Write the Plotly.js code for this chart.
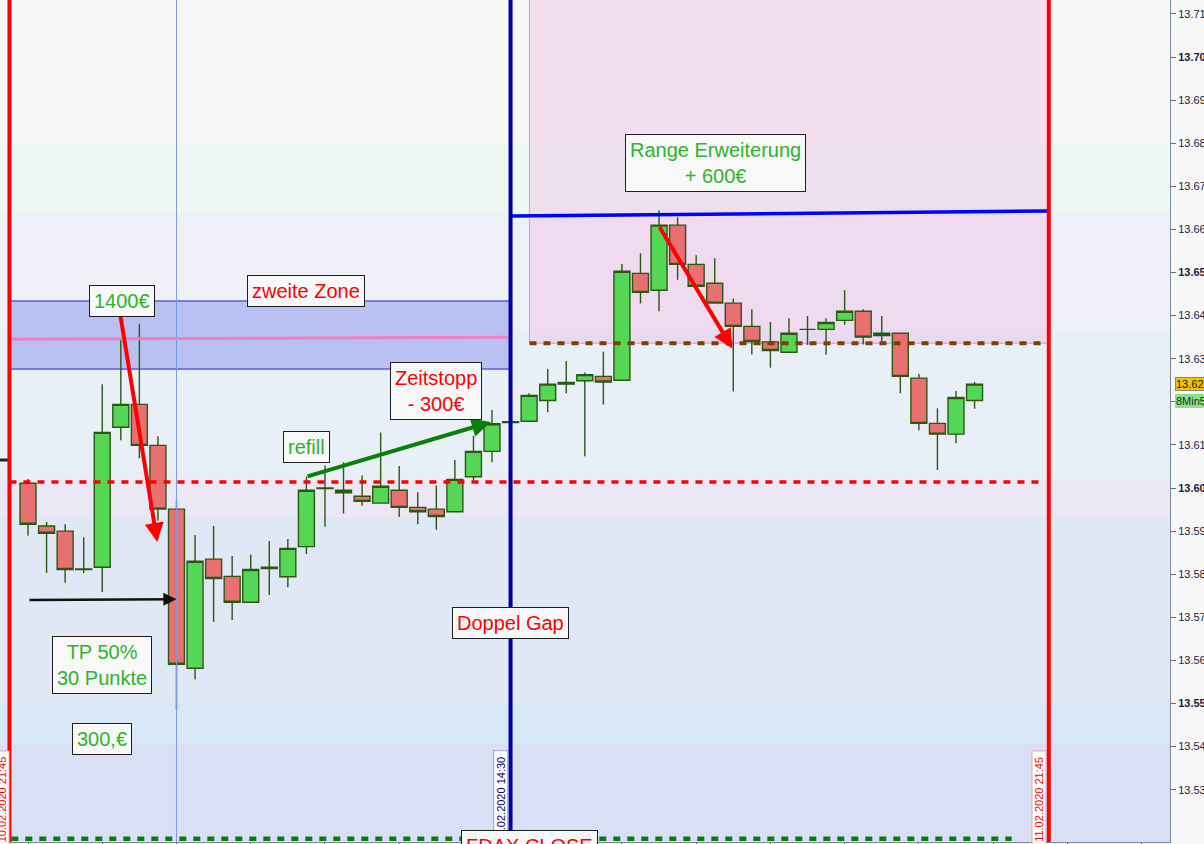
<!DOCTYPE html>
<html>
<head>
<meta charset="utf-8">
<script src="https://cdn.plot.ly/plotly-3.0.1.min.js"></script>
<style>
  html, body { margin: 0; padding: 0; background: #f7f7f7; overflow: hidden; }
  #chart { width: 1204px; height: 844px; }
</style>
</head>
<body>
<div id="chart"></div>
<script>
// 8-minute candles, 10.02.2020 21:45 -> 11.02.2020 21:45
const opens = [
  13.6011, 13.5912, 13.5900, 13.5812, 13.5816, 13.6141, 13.6194, 13.6099, 13.5951, 13.5582,
  13.5835, 13.5795, 13.5735, 13.5816, 13.5794, 13.5864, 13.6000, 13.5995, 13.5981, 13.5965,
  13.5995, 13.5955, 13.5951, 13.5945, 13.6026, 13.6085, 13.6152, 13.6155, 13.6203, 13.6241,
  13.6249, 13.6259, 13.6250, 13.6498, 13.6459, 13.6610, 13.6519, 13.6475, 13.6429, 13.6375,
  13.6339, 13.6315, 13.6368, 13.6368, 13.6389, 13.6410, 13.6354, 13.6359, 13.6255, 13.6150,
  13.6125, 13.6203
];
const highs = [
  13.6021, 13.5921, 13.5916, 13.5886, 13.6241, 13.6348, 13.6381, 13.6120, 13.5970, 13.5891,
  13.5912, 13.5842, 13.5846, 13.5877, 13.5882, 13.6026, 13.6052, 13.6060, 13.6029, 13.6129,
  13.6051, 13.5990, 13.6006, 13.6065, 13.6121, 13.6181, 13.6154, 13.6220, 13.6276, 13.6295,
  13.6268, 13.6316, 13.6520, 13.6545, 13.6644, 13.6628, 13.6540, 13.6533, 13.6440, 13.6415,
  13.6385, 13.6394, 13.6399, 13.6394, 13.6459, 13.6415, 13.6399, 13.6359, 13.6265, 13.6185,
  13.6225, 13.6246
];
const lows = [
  13.5889, 13.5803, 13.5780, 13.5803, 13.5759, 13.6111, 13.6069, 13.5924, 13.5485, 13.5556,
  13.5690, 13.5694, 13.5735, 13.5752, 13.5770, 13.5847, 13.5910, 13.5941, 13.5959, 13.5965,
  13.5933, 13.5916, 13.5903, 13.5945, 13.6017, 13.6060, 13.6152, 13.6155, 13.6176, 13.6220,
  13.6074, 13.6194, 13.6250, 13.6428, 13.6410, 13.6483, 13.6468, 13.6429, 13.6224, 13.6310,
  13.6279, 13.6315, 13.6332, 13.6310, 13.6379, 13.6333, 13.6340, 13.6220, 13.6134, 13.6042,
  13.6104, 13.6184
];
const closes = [
  13.5916, 13.5895, 13.5811, 13.5811, 13.6129, 13.6194, 13.6099, 13.5951, 13.5591, 13.5830,
  13.5790, 13.5735, 13.5811, 13.5813, 13.5860, 13.5995, 13.5999, 13.5989, 13.5969, 13.6004,
  13.5955, 13.5945, 13.5934, 13.6020, 13.6085, 13.6149, 13.6154, 13.6215, 13.6241, 13.6245,
  13.6263, 13.6246, 13.6503, 13.6454, 13.6610, 13.6519, 13.6468, 13.6429, 13.6375, 13.6340,
  13.6319, 13.6359, 13.6368, 13.6384, 13.6410, 13.6350, 13.6359, 13.6259, 13.6150, 13.6125,
  13.6210, 13.6241
];

// Price axis
const yTicks = [13.53, 13.54, 13.55, 13.56, 13.57, 13.58, 13.59, 13.60, 13.61,
                13.62, 13.63, 13.64, 13.65, 13.66, 13.67, 13.68, 13.69, 13.70, 13.71];
const boldTicks = [13.55, 13.60, 13.65, 13.70];
const coveredTicks = [13.62];   // hidden behind the price / timer tags

// Background price bands (upper/lower edges)
const bandEdges = [13.7140, 13.6800, 13.6638, 13.6367, 13.6021, 13.5933, 13.5501, 13.5408, 13.5170];

// Levels
const zoneLow = 13.6276, zoneHigh = 13.6434;          // "zweite Zone"
const zoneMid = [13.6345, 13.6350];                     // pink line across the zone
const redDashLevel = 13.6014;
const closeLevel = 13.5186;                             // FDAX close
const rangeLow = 13.6336;                               // lower edge of the extension range
const rangeLine = [13.6631, 13.6643];                   // blue upper line
const leftStub = 13.6065;

// Session markers (candle index)
const sessionStart = -1, gapBar = 26, sessionEnd = 55, tpBar = 8;

const FONT = 'Liberation Sans, Arial, sans-serif';
const GREEN_TXT = '#2db52d';
const RED_TXT = '#ff0000';

const idx = closes.map((_, i) => i);
const lastClose = closes[closes.length - 1];

const trace = {
  type: 'candlestick',
  x: idx, open: opens, high: highs, low: lows, close: closes,
  increasing: { fillcolor: '#55d655', line: { color: '#2a5814', width: 1.4 } },
  decreasing: { fillcolor: '#e87070', line: { color: '#2a5814', width: 1.4 } },
  whiskerwidth: 0,
  hoverinfo: 'skip'
};

const bandColors = ['#f7f7f7', '#eff7f5', '#f0f0f8', '#e8eff7', '#ebe8f5', '#e1e8f5', '#d9e8f7', '#d9e0f6'];

const shapes = [];
for (let i = 0; i < bandColors.length; i++) {
  shapes.push({ type: 'rect', layer: 'below', xref: 'paper', yref: 'y', x0: 0, x1: 1,
    y0: bandEdges[i + 1], y1: bandEdges[i], fillcolor: bandColors[i], line: { width: 0 } });
}
// zone box
shapes.push({ type: 'rect', layer: 'below', xref: 'x', yref: 'y', x0: sessionStart, x1: gapBar,
  y0: zoneLow, y1: zoneHigh, fillcolor: '#b8c1f2', line: { color: '#1e1ee0', width: 1 } });
// extension range box
shapes.push({ type: 'rect', layer: 'below', xref: 'x', yref: 'y', x0: 27.02, x1: sessionEnd,
  y0: rangeLow, y1: 13.72, fillcolor: 'rgba(236,130,205,0.2)', line: { color: '#f08ac8', width: 1 } });

// thin marker at the TP bar
shapes.push({ type: 'line', xref: 'x', yref: 'paper', x0: tpBar, x1: tpBar, y0: 0, y1: 1,
  line: { color: '#7b9be0', width: 1 } });
// pink mid line of the zone
shapes.push({ type: 'line', xref: 'x', yref: 'y', x0: sessionStart, x1: gapBar, y0: zoneMid[0], y1: zoneMid[1],
  line: { color: '#f080c0', width: 3 } });
// red dashed level
shapes.push({ type: 'line', xref: 'x', yref: 'y', x0: sessionStart, x1: 54.5, y0: redDashLevel, y1: redDashLevel,
  line: { color: '#ff0000', width: 3.5, dash: '7px,7px' } });
// close level (green dotted)
shapes.push({ type: 'line', xref: 'x', yref: 'y', x0: -0.9, x1: 53.0, y0: closeLevel, y1: closeLevel,
  line: { color: '#0a7a0a', width: 4.5, dash: '7px,7px' } });
// brown dotted lower edge of range
shapes.push({ type: 'line', xref: 'x', yref: 'y', x0: 27.02, x1: sessionEnd, y0: rangeLow, y1: rangeLow,
  line: { color: '#7c3e0c', width: 4, dash: '7px,7px' } });
// blue upper range line
shapes.push({ type: 'line', xref: 'x', yref: 'y', x0: gapBar, x1: sessionEnd, y0: rangeLine[0], y1: rangeLine[1],
  line: { color: '#0000ff', width: 3.5 } });
// left stub
shapes.push({ type: 'line', xref: 'paper', yref: 'y', x0: 0, x1: 0.0068, y0: leftStub, y1: leftStub,
  line: { color: '#222222', width: 3 } });
// session verticals
shapes.push({ type: 'line', xref: 'x', yref: 'paper', x0: gapBar, x1: gapBar, y0: 0, y1: 1,
  line: { color: '#0000a0', width: 4 } });
shapes.push({ type: 'line', xref: 'x', yref: 'paper', x0: sessionStart, x1: sessionStart, y0: 0, y1: 1,
  line: { color: '#ff0000', width: 4 } });
shapes.push({ type: 'line', xref: 'x', yref: 'paper', x0: sessionEnd, x1: sessionEnd, y0: 0, y1: 1,
  line: { color: '#ff0000', width: 4 } });

function note(x, y, text, color) {
  return { xref: 'x', yref: 'y', x: x, y: y, text: text, showarrow: false,
    font: { family: FONT, size: 20, color: color }, bgcolor: '#f8f8f8',
    bordercolor: '#1e1e1e', borderwidth: 1, borderpad: 4, xanchor: 'center', yanchor: 'middle' };
}
function arrow(x0, y0, x1, y1, color, width, size) {
  return { xref: 'x', yref: 'y', axref: 'x', ayref: 'y', x: x1, y: y1, ax: x0, ay: y0,
    text: '', showarrow: true, arrowhead: 2, arrowsize: size, arrowwidth: width, arrowcolor: color };
}
function stamp(x, text, color, border) {
  return { xref: 'x', yref: 'paper', x: x, y: 0.0505, text: text, textangle: -90, showarrow: false,
    font: { family: FONT, size: 11, color: color }, bgcolor: '#ffffff', bordercolor: border,
    borderwidth: 1, borderpad: 0, width: 96, height: 13, xanchor: 'center', yanchor: 'middle' };
}

const annotations = [
  arrow(4.957, 13.6406, 6.967, 13.5875, '#ff0000', 4, 0.95),
  arrow(14.978, 13.6026, 24.93, 13.6153, '#0a800a', 4, 0.95),
  arrow(33.98, 13.6609, 37.95, 13.6324, '#ff0000', 4, 0.95),
  arrow(0, 13.5740, 8.0, 13.5742, '#111111', 2.5, 1.05),
  note(5.06, 13.6434, '1400€', GREEN_TXT),
  note(14.98, 13.6457, 'zweite Zone', RED_TXT),
  note(37.04, 13.6753, 'Range Erweiterung<br>+ 600€', GREEN_TXT),
  note(21.96, 13.6225, 'Zeitstopp<br>- 300€', RED_TXT),
  note(14.98, 13.6096, 'refill', GREEN_TXT),
  note(26.02, 13.5687, 'Doppel Gap', RED_TXT),
  note(3.99, 13.5590, 'TP 50%<br>30 Punkte', GREEN_TXT),
  note(3.99, 13.5418, '300,€', GREEN_TXT),
  stamp(-1.40, '10.02.2020 21:45', '#ff0000', '#f0a0a0'),
  stamp(25.47, '11.02.2020 14:30', '#000080', '#a0a0c8'),
  stamp(54.47, '11.02.2020 21:45', '#ff0000', '#f0a0a0'),
  { xref: 'x', yref: 'paper', x: 27.02, y: 0.0143, yanchor: 'top', xanchor: 'center',
    text: 'FDAX CLOSE', showarrow: false, font: { family: FONT, size: 20, color: RED_TXT },
    bgcolor: '#f8f8f8', bordercolor: '#1e1e1e', borderwidth: 1, borderpad: 4 },
  { xref: 'paper', yref: 'y', x: 1.0043, y: lastClose, xanchor: 'left', yanchor: 'middle',
    text: lastClose.toFixed(4), showarrow: false, font: { family: FONT, size: 11, color: '#1a1a1a' },
    bgcolor: '#f2c200', bordercolor: '#8a8a8a', borderwidth: 1, borderpad: 0 },
  { xref: 'paper', yref: 'y', x: 1.0043, y: 13.6203, xanchor: 'left', yanchor: 'middle',
    text: '8Min55s', showarrow: false, font: { family: FONT, size: 11, color: '#103810' },
    bgcolor: '#8ee08e', borderwidth: 0, borderpad: 1 }
];

function tickLabel(v) {
  if (coveredTicks.includes(v)) return '';
  const s = v.toFixed(2);
  return boldTicks.includes(v) ? '<b>' + s + '</b>' : s;
}

const layout = {
  width: 1204, height: 844,
  margin: { l: 0, r: 34, t: 0, b: 2 },
  paper_bgcolor: '#f7f7f7', plot_bgcolor: '#f7f7f7',
  showlegend: false,
  boxgap: 0.14, boxgroupgap: 0,
  xaxis: {
    range: [-1.509, 61.53], showgrid: false, zeroline: false,
    showticklabels: false, ticks: 'outside', ticklen: 3, tickcolor: '#555566',
    tickmode: 'linear', tick0: 0, dtick: 4,
    showline: true, linecolor: '#7a8a9a', linewidth: 1,
    rangeslider: { visible: false }, fixedrange: true
  },
  yaxis: {
    side: 'right', range: [13.51787, 13.71323], showgrid: false, zeroline: false,
    tickmode: 'array', tickvals: yTicks, ticktext: yTicks.map(tickLabel),
    ticks: 'outside', ticklen: 5, tickcolor: '#607080',
    tickfont: { family: FONT, size: 11, color: '#1c1c40' },
    showline: true, linecolor: '#7a8a9a', linewidth: 1, fixedrange: true
  },
  shapes: shapes,
  annotations: annotations
};

Plotly.newPlot('chart', [trace], layout, { staticPlot: true, displayModeBar: false });
</script>
</body>
</html>
